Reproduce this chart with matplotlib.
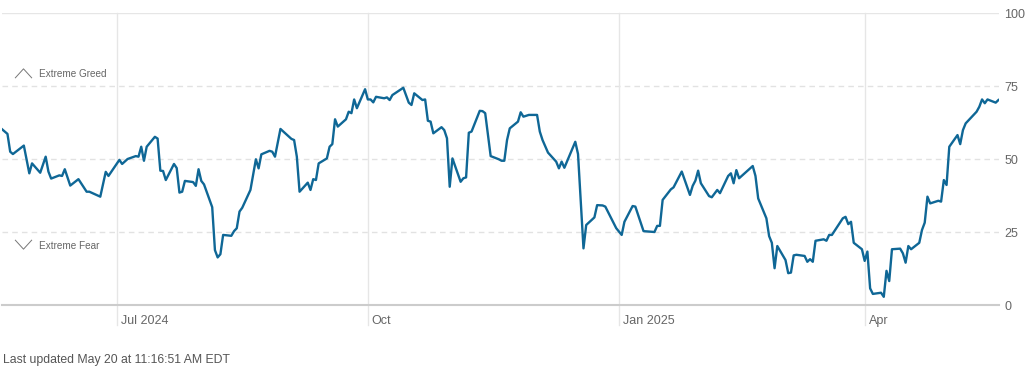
import matplotlib
matplotlib.use('Agg')
import matplotlib.pyplot as plt
from matplotlib.path import Path
from matplotlib import transforms
import pandas as pd

# Fear & Greed index, daily close readings
dates = [
    '2024-05-20', '2024-05-22', '2024-05-23', '2024-05-24', '2024-05-28', '2024-05-30', '2024-05-31',
    '2024-06-03', '2024-06-05', '2024-06-06', '2024-06-07', '2024-06-10', '2024-06-11', '2024-06-12',
    '2024-06-14', '2024-06-17', '2024-06-20', '2024-06-21', '2024-06-25', '2024-06-27', '2024-06-28',
    '2024-07-02', '2024-07-03', '2024-07-05', '2024-07-08', '2024-07-09', '2024-07-10', '2024-07-11',
    '2024-07-12', '2024-07-15', '2024-07-16', '2024-07-17', '2024-07-18', '2024-07-19', '2024-07-22',
    '2024-07-23', '2024-07-24', '2024-07-25', '2024-07-26', '2024-07-29', '2024-07-30', '2024-07-31',
    '2024-08-01', '2024-08-02', '2024-08-05', '2024-08-06', '2024-08-07', '2024-08-08', '2024-08-09',
    '2024-08-12', '2024-08-13', '2024-08-14', '2024-08-15', '2024-08-16', '2024-08-19', '2024-08-21',
    '2024-08-22', '2024-08-23', '2024-08-26', '2024-08-27', '2024-08-28', '2024-08-30', '2024-09-03',
    '2024-09-04', '2024-09-05', '2024-09-06', '2024-09-09', '2024-09-10', '2024-09-11', '2024-09-12',
    '2024-09-13', '2024-09-16', '2024-09-17', '2024-09-18', '2024-09-19', '2024-09-20', '2024-09-23',
    '2024-09-24', '2024-09-25', '2024-09-26', '2024-09-27', '2024-09-30', '2024-10-01', '2024-10-02',
    '2024-10-03', '2024-10-04', '2024-10-07', '2024-10-08', '2024-10-09', '2024-10-10', '2024-10-14',
    '2024-10-16', '2024-10-17', '2024-10-18', '2024-10-21', '2024-10-22', '2024-10-23', '2024-10-24',
    '2024-10-25', '2024-10-28', '2024-10-29', '2024-10-30', '2024-10-31', '2024-11-01', '2024-11-04',
    '2024-11-05', '2024-11-06', '2024-11-07', '2024-11-08', '2024-11-11', '2024-11-12', '2024-11-13',
    '2024-11-15', '2024-11-18', '2024-11-19', '2024-11-20', '2024-11-21', '2024-11-22', '2024-11-25',
    '2024-11-26', '2024-11-27', '2024-11-29', '2024-12-02', '2024-12-03', '2024-12-04', '2024-12-06',
    '2024-12-09', '2024-12-10', '2024-12-11', '2024-12-12', '2024-12-16', '2024-12-17', '2024-12-19',
    '2024-12-20', '2024-12-23', '2024-12-24', '2024-12-26', '2024-12-27', '2024-12-31', '2025-01-02',
    '2025-01-03', '2025-01-06', '2025-01-07', '2025-01-10', '2025-01-14', '2025-01-15', '2025-01-16',
    '2025-01-17', '2025-01-20', '2025-01-21', '2025-01-24', '2025-01-27', '2025-01-28', '2025-01-29',
    '2025-01-30', '2025-01-31', '2025-02-03', '2025-02-04', '2025-02-06', '2025-02-07', '2025-02-10',
    '2025-02-11', '2025-02-12', '2025-02-13', '2025-02-14', '2025-02-19', '2025-02-20', '2025-02-21',
    '2025-02-24', '2025-02-25', '2025-02-26', '2025-02-27', '2025-02-28', '2025-03-03', '2025-03-04',
    '2025-03-05', '2025-03-06', '2025-03-07', '2025-03-10', '2025-03-11', '2025-03-12', '2025-03-13',
    '2025-03-14', '2025-03-17', '2025-03-18', '2025-03-19', '2025-03-20', '2025-03-24', '2025-03-25',
    '2025-03-26', '2025-03-27', '2025-03-28', '2025-03-31', '2025-04-01', '2025-04-02', '2025-04-03',
    '2025-04-04', '2025-04-07', '2025-04-08', '2025-04-09', '2025-04-10', '2025-04-11', '2025-04-14',
    '2025-04-15', '2025-04-16', '2025-04-17', '2025-04-18', '2025-04-21', '2025-04-22', '2025-04-23',
    '2025-04-24', '2025-04-25', '2025-04-28', '2025-04-29', '2025-04-30', '2025-05-01', '2025-05-02',
    '2025-05-05', '2025-05-06', '2025-05-07', '2025-05-08', '2025-05-12', '2025-05-13', '2025-05-14',
    '2025-05-15', '2025-05-16', '2025-05-19', '2025-05-20',
]
values = [
    60.3, 58.7, 52.6, 51.8, 54.7, 45.2, 48.6,
    45.4, 50.9, 45.8, 43.4, 44.5, 44.3, 46.6,
    41.0, 43.2, 38.9, 38.9, 37.2, 45.7, 44.3,
    49.8, 48.4, 50.1, 51.1, 50.9, 54.3, 49.5,
    54.3, 57.7, 57.1, 46.1, 46.0, 42.9, 48.4,
    47.0, 38.6, 38.9, 42.6, 42.2, 40.9, 46.6,
    42.6, 41.4, 33.6, 18.9, 16.4, 17.5, 24.1,
    23.8, 25.4, 26.4, 32.1, 33.4, 39.5, 50.0,
    46.9, 51.7, 52.9, 52.6, 50.9, 60.4, 57.0,
    56.6, 50.9, 38.9, 42.0, 39.5, 43.2, 42.9,
    48.6, 50.3, 54.3, 55.2, 63.7, 61.2, 63.7,
    66.3, 65.8, 70.5, 67.5, 74.0, 70.5, 70.5,
    69.5, 71.4, 70.9, 71.2, 70.3, 72.0, 74.5,
    69.4, 68.6, 72.6, 70.3, 70.5, 63.2, 62.9,
    58.9, 61.0, 60.0, 57.2, 40.6, 50.3, 42.3,
    43.5, 43.8, 59.1, 59.5, 66.6, 66.5, 65.8,
    51.1, 50.0, 49.5, 49.5, 56.6, 60.6, 62.9,
    66.1, 64.6, 65.2, 65.2, 59.5, 56.6, 52.3,
    49.2, 46.9, 49.2, 47.1, 56.0, 51.8, 19.5,
    27.5, 30.1, 34.3, 34.2, 33.8, 26.4, 24.1,
    28.6, 34.0, 33.8, 25.4, 25.1, 27.2, 27.2,
    36.1, 39.7, 40.4, 45.8, 37.8, 40.9, 42.7,
    46.1, 41.8, 37.4, 37.0, 39.5, 38.4, 44.3,
    45.2, 41.8, 46.3, 43.5, 47.7, 44.3, 36.6,
    29.8, 23.7, 21.4, 12.7, 20.3, 15.5, 11.0,
    11.2, 17.1, 17.3, 16.9, 14.9, 15.8, 14.9,
    22.1, 22.6, 22.1, 24.1, 24.1, 29.8, 30.3,
    27.8, 28.6, 21.4, 19.2, 15.2, 18.4, 5.8,
    3.9, 4.3, 2.9, 11.8, 8.3, 19.2, 19.4,
    17.8, 14.6, 20.3, 19.2, 21.4, 25.8, 28.3,
    37.2, 34.9, 35.8, 35.5, 42.9, 41.2, 54.3,
    58.3, 55.2, 60.0, 62.3, 66.3, 68.0, 70.5,
    69.2, 70.5, 69.4, 70.3,
]

month_ticks = ['2024-07-01', '2024-10-01', '2025-01-01', '2025-04-01']
month_labels = ['Jul 2024', 'Oct', 'Jan 2025', 'Apr']
y_ticks = [0, 25, 50, 75, 100]

plt.rcParams['font.family'] = ['Liberation Sans', 'DejaVu Sans']

fig = plt.figure(figsize=(10.33, 3.69), dpi=100)
ax = fig.add_axes([2 / 1033, 63.7 / 369, 997 / 1033, 292 / 369])

x = pd.to_datetime(dates)
ax.set_xlim(pd.Timestamp('2024-05-20'), pd.Timestamp('2025-05-20 05:00'))
ax.set_ylim(0, 100)

# horizontal grid
for v in y_ticks[1:-1]:
    ax.axhline(v, color='#e2e2e2', lw=1, ls=(0, (4, 3)), zorder=1)
ax.axhline(100, color='#e6e6e6', lw=1, zorder=1)

# vertical month lines, running down past the axis
for d in month_ticks:
    ax.axvline(pd.Timestamp(d), ymin=-0.068, ymax=1, color='#e6e6e6', lw=1,
               clip_on=False, zorder=1)

lbl_tr = transforms.offset_copy(ax.get_xaxis_transform(), fig=fig, x=4, y=0, units='dots')
for d, lab in zip(month_ticks, month_labels):
    ax.text(pd.Timestamp(d), -0.053, lab, transform=lbl_tr, ha='left', va='center',
            fontsize=9, color='#666666')

ax.plot(x, values, color='#0f6796', lw=1.7, zorder=3)

for s in ['top', 'left', 'right']:
    ax.spines[s].set_visible(False)
ax.spines['bottom'].set_color('#cccccc')
ax.spines['bottom'].set_linewidth(1.5)

ax.set_xticks([])
ax.yaxis.tick_right()
ax.set_yticks(y_ticks)
ax.tick_params(axis='y', length=0, pad=4, labelsize=9, labelcolor='#666666')

# zone markers
up = Path([(-1, -0.55), (0, 0.55), (1, -0.55)], [Path.MOVETO, Path.LINETO, Path.LINETO])
down = Path([(-1, 0.55), (0, -0.55), (1, 0.55)], [Path.MOVETO, Path.LINETO, Path.LINETO])
ax.plot([0.0206], [0.7945], marker=up, ms=12.2, mfc='none', mec='#777777', mew=0.7,
        ls='none', transform=ax.transAxes, clip_on=False)
ax.plot([0.0206], [0.2106], marker=down, ms=12.2, mfc='none', mec='#777777', mew=0.7,
        ls='none', transform=ax.transAxes, clip_on=False)
ax.text(0.0371, 0.791, 'Extreme Greed', transform=ax.transAxes, fontsize=7.2,
        color='#666666', va='center', ha='left')
ax.text(0.0371, 0.204, 'Extreme Fear', transform=ax.transAxes, fontsize=7.2,
        color='#666666', va='center', ha='left')

fig.text(3 / 1033, 1 - 360 / 369, 'Last updated May 20 at 11:16:51 AM EDT',
         fontsize=8.8, color='#555555', va='center', ha='left')

fig.savefig('out.png', dpi=100)
